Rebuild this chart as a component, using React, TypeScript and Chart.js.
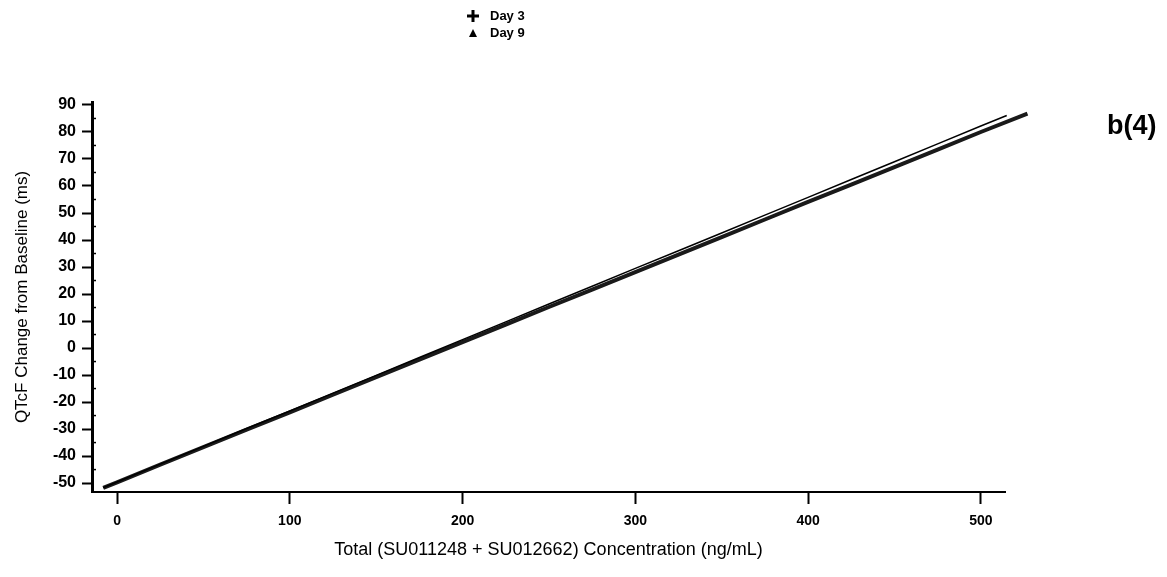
import React, { useEffect, useRef } from "react";
import { Chart, registerables } from "chart.js";

Chart.register(...registerables);

// Concentration (ng/mL) and QTcF change (ms)
const day3X = [-8, 0, 25, 50, 75, 100, 125, 150, 175, 200, 225, 250, 275, 300, 325, 350, 375, 400, 425, 450, 475, 500, 515];
const day3Y = [-51.7, -49.6, -43.0, -36.4, -29.8, -23.3, -16.7, -10.1, -3.5, 3.1, 9.7, 16.3, 22.9, 29.5, 36.0, 42.6, 49.2, 55.8, 62.4, 69.0, 75.6, 82.2, 86.1];

const day9X = [-8, 0, 25, 50, 75, 100, 125, 150, 175, 200, 225, 250, 275, 300, 325, 350, 375, 400, 425, 450, 475, 500, 527];
const day9Y = [-51.8, -49.7, -43.2, -36.7, -30.2, -23.8, -17.3, -10.8, -4.3, 2.2, 8.7, 15.2, 21.6, 28.1, 34.6, 41.1, 47.6, 54.1, 60.5, 67.0, 73.5, 80.0, 86.8];

const xTicks = [0, 100, 200, 300, 400, 500];
const yTicks = [-50, -40, -30, -20, -10, 0, 10, 20, 30, 40, 50, 60, 70, 80, 90];
const yMinorTicks = [-45, -35, -25, -15, -5, 5, 15, 25, 35, 45, 55, 65, 75, 85];

const seriesNames = ["Day 3", "Day 9"];
const xTitle = "Total (SU011248 + SU012662) Concentration (ng/mL)";
const yTitle = "QTcF Change from Baseline (ms)";
const panelLabel = "b(4)";

const FONT = '"Liberation Sans", Arial, sans-serif';

export default function App() {
  const canvasRef = useRef<HTMLCanvasElement | null>(null);

  useEffect(() => {
    const canvas = canvasRef.current;
    if (!canvas) return;

    const minorTicks = {
      id: "minorTicks",
      afterDraw(chart: any) {
        const ctx = chart.ctx;
        const ys = chart.scales.y;
        const left = chart.chartArea.left;
        ctx.save();
        ctx.strokeStyle = "#000";
        ctx.lineWidth = 1.5;
        yMinorTicks.forEach((v) => {
          const p = ys.getPixelForValue(v);
          ctx.beginPath();
          ctx.moveTo(left, p);
          ctx.lineTo(left + 4, p);
          ctx.stroke();
        });
        ctx.restore();
      },
    };

    const chart = new Chart(canvas, {
      type: "line",
      data: {
        datasets: [
          {
            label: seriesNames[0],
            data: day3X.map((x, i) => ({ x, y: day3Y[i] })),
            borderColor: "#000",
            borderWidth: 1.5,
            pointRadius: 0,
            pointStyle: "cross",
            clip: false,
            tension: 0,
          },
          {
            label: seriesNames[1],
            data: day9X.map((x, i) => ({ x, y: day9Y[i] })),
            borderColor: "#1a1a1a",
            borderWidth: 4,
            pointRadius: 0,
            pointStyle: "triangle",
            clip: false,
            tension: 0,
          },
        ],
      },
      options: {
        animation: false,
        responsive: false,
        layout: { padding: { top: 102, right: 162, left: 0, bottom: 0 } },
        plugins: {
          legend: { display: false },
          tooltip: { enabled: false },
        },
        scales: {
          x: {
            type: "linear",
            min: -14.5,
            max: 514,
            afterBuildTicks: (s: any) => {
              s.ticks = xTicks.map((v) => ({ value: v }));
            },
            afterFit: (s: any) => {
              s.height = 85;
            },
            grid: {
              drawOnChartArea: false,
              tickLength: 12,
              tickWidth: 2,
              tickColor: "#000",
            },
            border: { color: "#000", width: 2 },
            ticks: {
              padding: 9,
              color: "#000",
              maxRotation: 0,
              autoSkip: false,
              font: { family: FONT, size: 14, weight: "bold" },
            },
            title: {
              display: true,
              text: xTitle,
              color: "#000",
              font: { family: FONT, size: 18 },
              padding: { top: 0, bottom: 16 },
            },
          },
          y: {
            type: "linear",
            min: -53.3,
            max: 91.1,
            afterBuildTicks: (s: any) => {
              s.ticks = yTicks.map((v) => ({ value: v }));
            },
            afterFit: (s: any) => {
              s.width = 92;
            },
            grid: {
              drawOnChartArea: false,
              tickLength: 10,
              tickWidth: 2,
              tickColor: "#000",
            },
            border: { color: "#000", width: 3 },
            ticks: {
              padding: 6,
              color: "#000",
              autoSkip: false,
              font: { family: FONT, size: 16, weight: "bold" },
            },
            title: {
              display: true,
              text: yTitle,
              color: "#000",
              font: { family: FONT, size: 17 },
              padding: { top: 12, bottom: 0 },
            },
          },
        },
      },
      plugins: [minorTicks],
    } as any);

    return () => chart.destroy();
  }, []);

  return (
    <div style={{ position: "absolute", left: 0, top: 0, width: 1167, height: 577, background: "#fff", overflow: "hidden" }}>
      <canvas ref={canvasRef} width={1167} height={577} style={{ display: "block", width: 1167, height: 577 }} />
      <div style={{ position: "absolute", left: 466, top: 7, fontFamily: FONT, fontWeight: "bold", fontSize: 13, color: "#000", lineHeight: "17px" }}>
        <div style={{ display: "flex", alignItems: "center" }}>
          <svg width="14" height="14" style={{ marginRight: 10 }}>
            <path d="M7 1 V13 M1 7 H13" stroke="#000" strokeWidth="3" />
          </svg>
          <span>{seriesNames[0]}</span>
        </div>
        <div style={{ display: "flex", alignItems: "center" }}>
          <svg width="14" height="14" style={{ marginRight: 10 }}>
            <path d="M7 3 L11 11 L3 11 Z" fill="#000" />
          </svg>
          <span>{seriesNames[1]}</span>
        </div>
      </div>
      <div style={{ position: "absolute", left: 1107, top: 108, fontFamily: FONT, fontWeight: "bold", fontSize: 27, color: "#000", lineHeight: "34px" }}>
        {panelLabel}
      </div>
    </div>
  );
}
